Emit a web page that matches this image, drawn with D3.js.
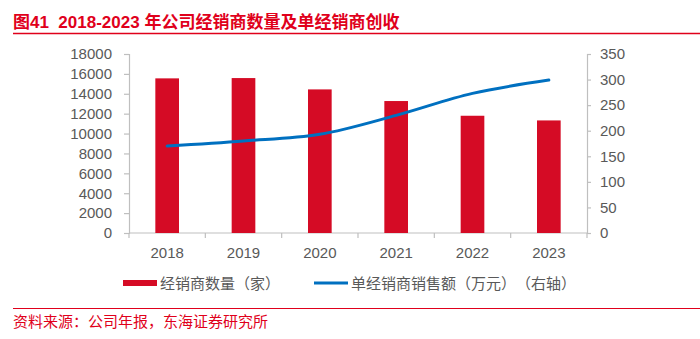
<!DOCTYPE html>
<html>
<head>
<meta charset="utf-8">
<script src="https://cdn.jsdelivr.net/npm/d3@7"></script>
<style>
  body { margin: 0; background: #fff; }
  svg { display: block; font-family: "Liberation Sans", Arial, "Noto Sans CJK SC", sans-serif; }
  text { text-spacing-trim: space-all; white-space: pre; }
</style>
</head>
<body>
<svg width="700" height="339"></svg>
<script>
var years = ["2018", "2019", "2020", "2021", "2022", "2023"];
var dealers = [15550, 15580, 14440, 13270, 11790, 11320];
var salesPerDealer = [170, 180, 193, 230, 273, 299];
var leftTicks = [0, 2000, 4000, 6000, 8000, 10000, 12000, 14000, 16000, 18000];
var rightTicks = [0, 50, 100, 150, 200, 250, 300, 350];

var red = "#D50B25",
    blue = "#0070C0",
    grey = "#595959",
    axisGrey = "#BFBFBF",
    cjk = "'Noto Sans CJK SC', sans-serif";

var svg = d3.select("svg"),
    margin = {top: 54, right: 113, bottom: 106, left: 129},
    width = +svg.attr("width") - margin.left - margin.right,
    height = +svg.attr("height") - margin.top - margin.bottom,
    g = svg.append("g").attr("transform", "translate(" + margin.left + "," + margin.top + ")");

// title and rules
svg.append("text")
    .attr("x", 13).attr("y", 28)
    .attr("fill", "#E0001B")
    .style("font-family", "'Liberation Sans', Arial, " + cjk)
    .style("font-weight", "bold")
    .style("font-size", "17px")
    .text("图41  2018-2023 年公司经销商数量及单经销商创收");
svg.append("line")
    .attr("x1", 13).attr("x2", 700).attr("y1", 33.5).attr("y2", 33.5)
    .attr("stroke", "#E0001B").attr("stroke-width", 1.5);
svg.append("line")
    .attr("x1", 13).attr("x2", 700).attr("y1", 308.5).attr("y2", 308.5)
    .attr("stroke", "#E0001B").attr("stroke-width", 1.2);
svg.append("text")
    .attr("x", 13).attr("y", 327)
    .attr("fill", "#E0001B")
    .style("font-family", cjk)
    .style("font-size", "15px")
    .text("资料来源：公司年报，东海证券研究所");

var x = d3.scaleBand()
    .domain(years)
    .range([0, width])
    .paddingInner(0.69)
    .paddingOuter(0.345);

var xPoint = d3.scalePoint()
    .domain(years)
    .range([0, width])
    .padding(0.5);

var yLeft = d3.scaleLinear().domain([0, 18000]).range([height, 0]);
var yRight = d3.scaleLinear().domain([0, 350]).range([height, 0]);

function styleAxis(sel) {
  sel.selectAll("path, line").attr("stroke", axisGrey).attr("stroke-width", 1.2);
  sel.selectAll("text")
      .attr("fill", grey)
      .style("font-size", "15px")
      .style("font-family", "'Liberation Sans', Arial, sans-serif");
}

g.append("g")
    .call(d3.axisLeft(yLeft).tickValues(leftTicks).tickFormat(d3.format("d"))
      .tickSize(5).tickSizeOuter(5).tickPadding(12))
    .call(styleAxis);

g.append("g")
    .attr("transform", "translate(" + width + ",0)")
    .call(d3.axisRight(yRight).tickValues(rightTicks).tickFormat(d3.format("d"))
      .tickSize(4).tickSizeOuter(4).tickPadding(9))
    .call(styleAxis);

// category axis: ticks sit between the bands
var xAxis = g.append("g").attr("transform", "translate(0," + height + ")");
xAxis.append("line")
    .attr("x1", 0).attr("x2", width)
    .attr("stroke", axisGrey).attr("stroke-width", 1.2);
xAxis.selectAll(".sep")
    .data(d3.range(years.length + 1))
    .enter().append("line")
    .attr("x1", function(i) { return i * width / years.length; })
    .attr("x2", function(i) { return i * width / years.length; })
    .attr("y1", 0).attr("y2", 5)
    .attr("stroke", axisGrey).attr("stroke-width", 1.2);
xAxis.selectAll(".lbl")
    .data(years)
    .enter().append("text")
    .attr("x", function(d) { return xPoint(d); })
    .attr("y", 25)
    .attr("text-anchor", "middle")
    .attr("fill", grey)
    .style("font-size", "15px")
    .text(function(d) { return d; });

g.selectAll(".bar")
    .data(years)
    .enter().append("rect")
    .attr("class", "bar")
    .attr("x", function(d) { return x(d); })
    .attr("width", x.bandwidth())
    .attr("y", function(d, i) { return yLeft(dealers[i]); })
    .attr("height", function(d, i) { return height - yLeft(dealers[i]); })
    .attr("fill", red);

var line = d3.line()
    .x(function(d) { return xPoint(d.year); })
    .y(function(d) { return yRight(d.value); })
    .curve(d3.curveCatmullRom.alpha(0.5));

g.append("path")
    .datum(years.map(function(d, i) { return {year: d, value: salesPerDealer[i]}; }))
    .attr("fill", "none")
    .attr("stroke", blue)
    .attr("stroke-width", 3)
    .attr("stroke-linecap", "round")
    .attr("d", line);

// legend
var legend = svg.append("g").style("font-family", cjk).style("font-size", "15px");
legend.append("rect")
    .attr("x", 123).attr("y", 280).attr("width", 34).attr("height", 6)
    .attr("fill", red);
legend.append("text")
    .attr("x", 160).attr("y", 289)
    .attr("fill", grey)
    .text("经销商数量（家）");
legend.append("line")
    .attr("x1", 314).attr("x2", 348).attr("y1", 283).attr("y2", 283)
    .attr("stroke", blue).attr("stroke-width", 3);
legend.append("text")
    .attr("x", 351).attr("y", 289)
    .attr("fill", grey)
    .text("单经销商销售额（万元）（右轴）");
</script>
</body>
</html>
